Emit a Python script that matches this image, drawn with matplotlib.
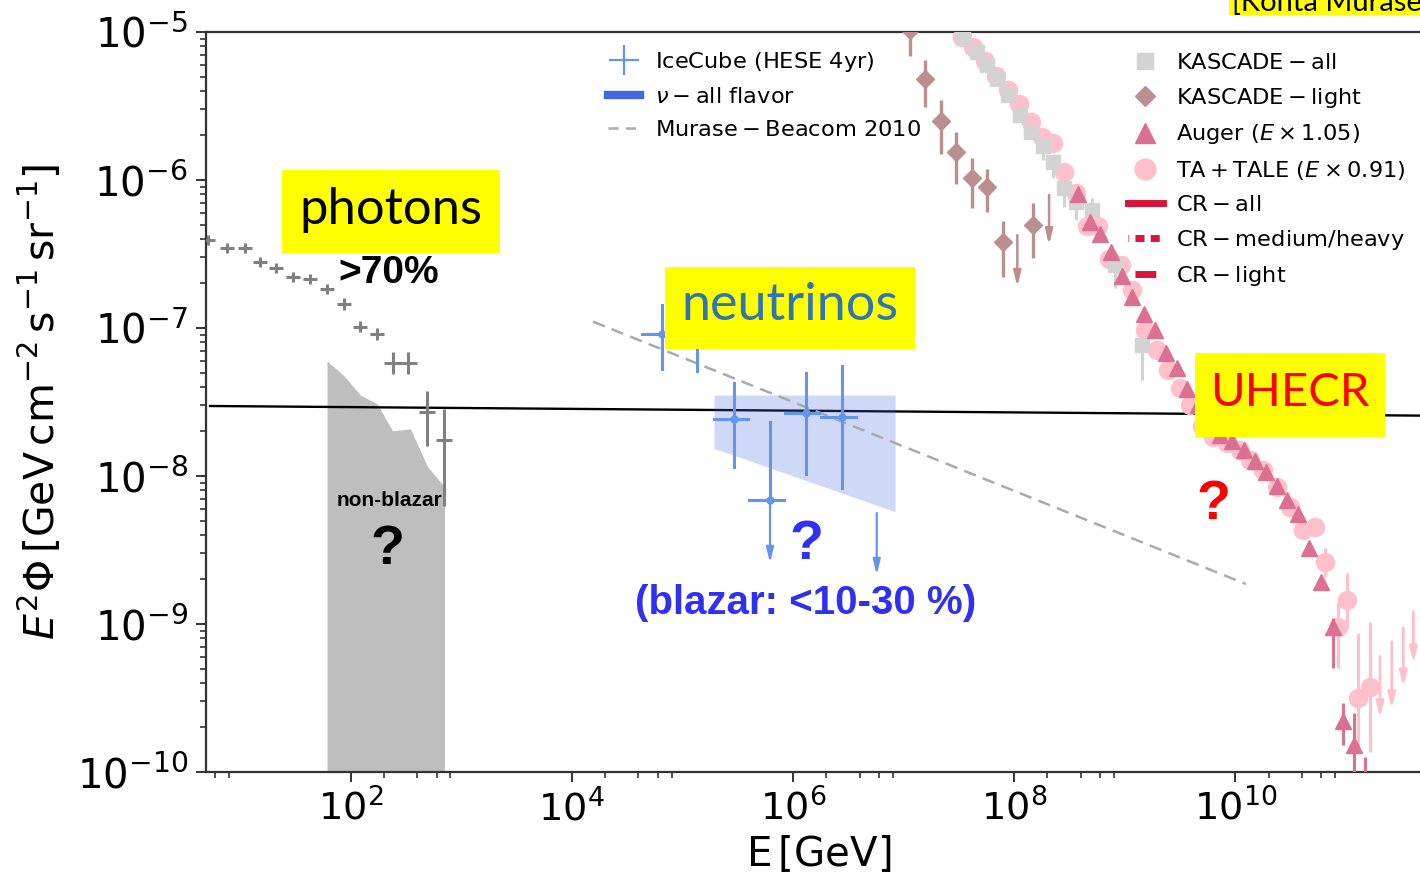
import numpy as np
import matplotlib
matplotlib.use("Agg")
import matplotlib.pyplot as plt
from matplotlib.lines import Line2D
from matplotlib.patches import Rectangle
from matplotlib.ticker import FixedLocator, NullFormatter, LogLocator

# ---------------------------------------------------------------- data (log10 GeV, log10 GeV cm^-2 s^-1 sr^-1)
# Fermi diffuse gamma-ray background
phot_logE = [0.712, 0.884, 1.046, 1.182, 1.327, 1.480, 1.634, 1.788, 1.941,
             2.086, 2.240, 2.384, 2.520, 2.692, 2.845]
phot_logF = [-6.405, -6.459, -6.459, -6.554, -6.595, -6.655, -6.669, -6.736,
             -6.838, -6.993, -7.041, -7.236, -7.236, -7.568, -7.757]
phot_logF_hi = [-6.37, -6.425, -6.425, -6.52, -6.56, -6.62, -6.635, -6.70,
                -6.80, -6.955, -7.0, -7.16, -7.16, -7.428, -7.549]
phot_logF_lo = [-6.44, -6.495, -6.495, -6.59, -6.63, -6.69, -6.705, -6.77,
                -6.875, -7.03, -7.08, -7.31, -7.31, -7.795, -8.201]
phot_dlogE = [0.06] * 11 + [0.08, 0.08, 0.075, 0.075]

# non-blazar allowed region
nb_logE = [1.788, 1.937, 2.090, 2.244, 2.379, 2.542, 2.695, 2.831, 2.849]
nb_logF = [-7.223, -7.320, -7.453, -7.514, -7.694, -7.682, -7.935, -8.056, -8.056]

# IceCube HESE 4yr
ic_logE = [4.814, 5.133, 5.467, 5.793, 6.116, 6.441]
ic_logE_lo = [4.633, 4.953, 5.287, 5.603, 5.925, 6.251]
ic_logE_hi = [4.995, 5.313, 5.594, 5.920, 6.233, 6.567]
ic_logF = [-7.041, -7.070, -7.617, -8.162, -7.576, -7.603]
ic_logF_hi = [-6.845, -6.800, -7.372, -7.633, -7.303, -7.257]
ic_logF_lo = [-7.277, -7.289, -7.939, -8.588, -7.986, -8.081]
ic_arrow = [False, False, False, True, False, False]
# upper limit without a measured point
ic_ul_logE = [6.758]
ic_ul_logF = [-8.250]
ic_ul_logF_end = [-8.669]

# all-flavour neutrino band
band_logE = [5.287, 6.924]
band_logF_top = [-7.453, -7.453]
band_logF_bot = [-7.813, -8.241]

# Murase & Beacom 2010 model
mb_logE = [4.193, 10.096]
mb_logF = [-6.957, -8.730]

# reference flux level
ref_logE = [0.73, 12.0]
ref_logF = [-7.527, -7.594]

# KASCADE light component
kl_logE = [7.058, 7.194, 7.336, 7.475, 7.617, 7.752, 7.897, 8.174]
kl_logF = [-4.986, -5.318, -5.601, -5.813, -5.989, -6.045, -6.421, -6.304]
kl_logF_hi = [-4.90, -5.189, -5.459, -5.678, -5.853, -5.926, -6.277, -6.157]
kl_logF_lo = [-5.160, -5.505, -5.826, -6.029, -6.187, -6.214, -6.653, -6.529]
kl_ul_logE = [8.029, 8.316]
kl_ul_logF = [-6.372, -6.101]
kl_ul_logF_end = [-6.721, -6.439]

# KASCADE all-particle
ka_logE = [7.541, 7.662, 7.752, 7.848, 7.948, 8.053, 8.150, 8.259, 8.354,
           8.451, 8.560, 8.702, 8.912, 9.154]
ka_logF = [-5.043, -5.133, -5.223, -5.318, -5.426, -5.561, -5.674, -5.768,
           -5.876, -6.056, -6.147, -6.203, -6.574, -7.115]
ka_logF_hi = [-5.02, -5.11, -5.20, -5.295, -5.40, -5.535, -5.65, -5.74,
              -5.85, -6.03, -6.12, -6.122, -6.55, -7.09]
ka_logF_lo = [-5.066, -5.156, -5.246, -5.341, -5.45, -5.585, -5.70, -5.865,
              -5.986, -6.182, -6.270, -6.338, -6.730, -7.351]

# Auger (E x 1.05)
au_logE = [8.578, 8.686, 8.777, 8.876, 8.976, 9.066, 9.175, 9.274, 9.374,
           9.473, 9.564, 9.663, 9.763, 9.862, 9.971, 10.079, 10.179, 10.278,
           10.378, 10.468, 10.567, 10.667, 10.775, 10.884, 10.974, 11.073, 11.173]
au_logF = [-6.095, -6.284, -6.365, -6.486, -6.649, -6.791, -6.905, -7.014,
           -7.169, -7.270, -7.412, -7.520, -7.635, -7.723, -7.764, -7.824,
           -7.899, -7.973, -8.068, -8.162, -8.257, -8.486, -8.716, -9.020,
           -9.655, -9.818, -10.40]
au_logF_hi = [-6.08, -6.27, -6.35, -6.47, -6.635, -6.775, -6.89, -7.0,
              -7.155, -7.255, -7.395, -7.50, -7.615, -7.705, -7.745, -7.805,
              -7.88, -7.95, -8.045, -8.135, -8.225, -8.45, -8.67, -8.96,
              -9.534, -9.601, -9.899]
au_logF_lo = [-6.11, -6.30, -6.38, -6.50, -6.665, -6.805, -6.92, -7.03,
              -7.185, -7.285, -7.43, -7.54, -7.655, -7.74, -7.785, -7.845,
              -7.92, -7.995, -8.09, -8.19, -8.29, -8.525, -8.77, -9.297,
              -9.818, -10.5, -10.6]

# TA + TALE (E x 0.91)
ta_logE = [7.529, 7.629, 7.737, 7.836, 7.945, 8.044, 8.153, 8.252, 8.352,
           8.451, 8.560, 8.659, 8.759, 8.858, 8.967, 9.066, 9.184, 9.292,
           9.392, 9.500, 9.591, 9.699, 9.799, 9.925, 10.043, 10.133, 10.250,
           10.377, 10.494, 10.612, 10.721, 10.811, 10.929, 11.010, 11.109, 11.218]
ta_logF = [-5.034, -5.101, -5.196, -5.297, -5.392, -5.486, -5.608, -5.709,
           -5.750, -5.946, -6.088, -6.311, -6.311, -6.534, -6.574, -6.743,
           -7.014, -7.149, -7.284, -7.405, -7.520, -7.662, -7.736, -7.777,
           -7.824, -7.892, -7.959, -8.074, -8.209, -8.365, -8.345, -8.581,
           -9.020, -8.838, -9.500, -9.426]
ta_logF_hi = [f + 0.02 for f in ta_logF[:31]] + [-8.486, -8.851, -8.655, -9.061, -8.986]
ta_logF_lo = [f - 0.02 for f in ta_logF[:31]] + [-8.682, -9.297, -9.020, -9.872, -9.865]
ta_ul_logE = [11.308, 11.414, 11.519, 11.610]
ta_ul_logF = [-9.221, -9.120, -9.027, -8.917]
ta_ul_logF_end = [-9.635, -9.574, -9.426, -9.264]

x_ticks = [2, 4, 6, 8, 10]
y_ticks = [-10, -9, -8, -7, -6, -5]

# ---------------------------------------------------------------- helpers
def p(a):
    return 10.0 ** np.asarray(a, dtype=float)


def asym(center, lo, hi):
    c = p(center)
    return [c - p(lo), p(hi) - c]


W, H = 1420, 877
fig = plt.figure(figsize=(W / 100, H / 100), dpi=100)
ax_left, ax_right, ax_top, ax_bot = 206, 1450, 32, 772
ax = fig.add_axes([ax_left / W, 1 - ax_bot / H, (ax_right - ax_left) / W,
                   (ax_bot - ax_top) / H])
ax.set_xscale('log')
ax.set_yscale('log')
ax.set_xlim(10 ** 0.6935, 10 ** 11.941)
ax.set_ylim(1e-10, 1e-5)


def down_arrow(x, y0, y1, color, lw=1.6, hw=0.22, hl=0.9):
    ax.annotate('', xy=(x, y1), xytext=(x, y0),
                arrowprops=dict(arrowstyle=f'-|>,head_width={hw},head_length={hl}',
                                color=color, lw=lw, shrinkA=0, shrinkB=0),
                zorder=4, annotation_clip=False)


# non-blazar region
ax.fill_between(p(nb_logE), p(nb_logF), 1e-10, color='#bebebe', lw=0, zorder=1)

# reference flux level
ax.plot(p(ref_logE), p(ref_logF), color='black', lw=1.7, zorder=2)

# photons
ax.errorbar(p(phot_logE), p(phot_logF),
            xerr=asym(phot_logE, np.subtract(phot_logE, phot_dlogE), np.add(phot_logE, phot_dlogE)),
            yerr=asym(phot_logF, phot_logF_lo, phot_logF_hi),
            fmt='none', ecolor='#808080', elinewidth=2.2, zorder=3)

# neutrinos
ax.fill_between(p(band_logE), p(band_logF_top), p(band_logF_bot),
                color='royalblue', alpha=0.25, lw=0, zorder=2)
ax.plot(p(mb_logE), p(mb_logF), color='#aaaaaa', lw=1.8, ls=(0, (5, 3)), zorder=2)
ic_c = '#6495ed'
for i in range(len(ic_logE)):
    e = p(ic_logE[i])
    f = p(ic_logF[i])
    ax.plot([p(ic_logE_lo[i]), p(ic_logE_hi[i])], [f, f], color=ic_c, lw=2.2, zorder=3)
    ax.plot(e, f, 'o', color=ic_c, ms=5, zorder=3)
    if ic_arrow[i]:
        ax.plot([e, e], [p(ic_logF_hi[i]), f], color=ic_c, lw=2.2, zorder=3)
        down_arrow(e, f, p(ic_logF_lo[i]), ic_c)
    else:
        ax.plot([e, e], [p(ic_logF_hi[i]), p(ic_logF_lo[i])], color=ic_c, lw=2.2, zorder=3)
for e, f0, f1 in zip(ic_ul_logE, ic_ul_logF, ic_ul_logF_end):
    down_arrow(p(e), p(f0), p(f1), ic_c)

# cosmic rays
ax.errorbar(p(ta_logE), p(ta_logF), yerr=asym(ta_logF, ta_logF_lo, ta_logF_hi),
            fmt='o', ms=13, color='pink', ecolor='pink', elinewidth=2.2, zorder=3)
for e, f0, f1 in zip(ta_ul_logE, ta_ul_logF, ta_ul_logF_end):
    down_arrow(p(e), p(f0), p(f1), 'pink', lw=2.0)
ax.errorbar(p(ka_logE), p(ka_logF), yerr=asym(ka_logF, ka_logF_lo, ka_logF_hi),
            fmt='s', ms=10, color='lightgray', ecolor='lightgray', elinewidth=2.2, zorder=4)
ax.errorbar(p(au_logE), p(au_logF), yerr=asym(au_logF, au_logF_lo, au_logF_hi),
            fmt='^', ms=12, color='palevioletred', ecolor='palevioletred',
            elinewidth=2.2, zorder=4)
ax.errorbar(p(kl_logE), p(kl_logF), yerr=asym(kl_logF, kl_logF_lo, kl_logF_hi),
            fmt='D', ms=9, color='rosybrown', ecolor='rosybrown', elinewidth=2.4, zorder=4)
for e, f0, f1 in zip(kl_ul_logE, kl_ul_logF, kl_ul_logF_end):
    down_arrow(p(e), p(f0), p(f1), 'rosybrown', lw=1.8)

# ---------------------------------------------------------------- axes styling
ax.xaxis.set_major_locator(FixedLocator(p(x_ticks)))
minor_x = [m * 10.0 ** d for d in range(0, 13, 2) for m in (2, 4, 6, 8)]
ax.xaxis.set_minor_locator(FixedLocator(minor_x))
ax.xaxis.set_minor_formatter(NullFormatter())
ax.set_xticklabels([rf'$10^{{{t}}}$' for t in x_ticks])
ax.yaxis.set_major_locator(FixedLocator(p(y_ticks)))
ax.yaxis.set_minor_locator(LogLocator(base=10, subs=np.arange(2, 10), numticks=20))
ax.yaxis.set_minor_formatter(NullFormatter())
ax.set_yticklabels([rf'$10^{{{t}}}$' for t in y_ticks])
ax.tick_params(which='major', length=7, width=1.4, color='#333333')
ax.tick_params(which='minor', length=4.5, width=1.2, color='#333333')
ax.tick_params(axis='y', pad=6, labelsize=29)
ax.tick_params(axis='x', pad=5, labelsize=27.5)
for s in ax.spines.values():
    s.set_linewidth(1.6)
    s.set_color('#333333')

ax.set_xlabel(r'$\mathrm{E\,[GeV]}$', fontsize=29)
ax.xaxis.set_label_coords((819 - ax_left) / (ax_right - ax_left), (ax_bot - 855) / (ax_bot - ax_top))
ax.xaxis.label.set_va('center')
ax.set_ylabel(r'$E^2\Phi\,[\mathrm{GeV\,cm^{-2}\,s^{-1}\,sr^{-1}}]$', fontsize=29.5)
ax.yaxis.set_label_coords((40 - ax_left) / (ax_right - ax_left), 0.5)
ax.yaxis.label.set_va('center')

# ---------------------------------------------------------------- legends
leg_fs = 16.2
h1 = [Line2D([], [], ls='none', marker='+', ms=21, mew=1.6, color=ic_c),
      Line2D([], [], color='royalblue', lw=6),
      Line2D([], [], color='#aaaaaa', lw=1.8, ls=(0, (4, 3)))]
l1 = [r'$\mathrm{IceCube\ (HESE\ 4yr)}$', r'$\nu-\mathrm{all\ flavor}$',
      r'$\mathrm{Murase-Beacom\ 2010}$']
leg1 = ax.legend(h1, l1, loc='upper left', bbox_to_anchor=(608 / W, 1 - 50 / H),
                 bbox_transform=fig.transFigure, frameon=False, fontsize=leg_fs,
                 handlelength=1.4, handletextpad=0.7, labelspacing=0.58,
                 borderpad=0, borderaxespad=0)
ax.add_artist(leg1)

cr = 'crimson'
h2 = [Line2D([], [], ls='none', marker='s', ms=11, color='lightgray'),
      Line2D([], [], ls='none', marker='D', ms=10, color='rosybrown'),
      Line2D([], [], ls='none', marker='^', ms=14, color='palevioletred'),
      Line2D([], [], ls='none', marker='o', ms=15, color='pink'),
      Line2D([], [], color=cr, lw=5),
      Line2D([], [], color=cr, lw=5, ls=(1.2, (1.3, 0.9))),
      Line2D([], [], color=cr, lw=5, ls=(7.0, (3.0, 5.0)))]
l2 = [r'$\mathrm{KASCADE-all}$', r'$\mathrm{KASCADE-light}$',
      r'$\mathrm{Auger}\ (E\times1.05)$', r'$\mathrm{TA+TALE}\ (E\times0.91)$',
      r'$\mathrm{CR-all}$', r'$\mathrm{CR-medium/heavy}$', r'$\mathrm{CR-light}$']
ax.legend(h2, l2, loc='upper left', bbox_to_anchor=(1128 / W, 1 - 53 / H),
          bbox_transform=fig.transFigure, frameon=False, fontsize=leg_fs,
          handlelength=1.55, handletextpad=0.6, labelspacing=0.565,
          borderpad=0, borderaxespad=0)

# ---------------------------------------------------------------- annotations
def label_box(x0, x1, y0, y1, text, color, fs, cx, cy):
    fx0, fy0 = x0 / W, 1 - y1 / H
    fig.add_artist(Rectangle((fx0, fy0), (x1 - x0) / W, (y1 - y0) / H,
                             transform=fig.transFigure, fc='yellow', ec='none', zorder=5))
    fig.text(cx / W, 1 - cy / H, text, color=color, fontsize=fs, family='Lato',
             ha='center', va='center', zorder=6)


label_box(282, 500, 170, 253, 'photons', 'black', 36.5, 391, 210)
label_box(665, 915, 267, 349, 'neutrinos', '#2e75b6', 37.5, 790, 306)
label_box(1195, 1385, 353, 437, 'UHECR', '#ff0000', 34, 1290, 393)
fig.add_artist(Rectangle((1229 / W, 1 - 15 / H), (W - 1229) / W, 20 / H,
                         transform=fig.transFigure, fc='yellow', ec='none', zorder=5))
fig.text(1232 / W, 1 - 11 / H, '[Kohta Murase]', fontsize=21, family='Lato',
         ha='left', va='baseline', zorder=6)

bold = dict(family='Liberation Sans', weight='bold', ha='center', va='center')
fig.text(389 / W, 1 - 273 / H, '>70%', fontsize=28, color='black', **bold)
fig.text(389 / W, 1 - 500 / H, 'non-blazar', fontsize=15, color='black', **bold)
fig.text(387 / W, 1 - 550 / H, '?', fontsize=40, color='black', **bold)
fig.text(806 / W, 1 - 545 / H, '?', fontsize=40, color='#3030f0', **bold)
fig.text(806 / W, 1 - 603 / H, '(blazar: <10-30 %)', fontsize=29, color='#3030f0', **bold)
fig.text(1213 / W, 1 - 505 / H, '?', fontsize=40, color='#ff0000', **bold)

fig.savefig('out.png', dpi=100)
